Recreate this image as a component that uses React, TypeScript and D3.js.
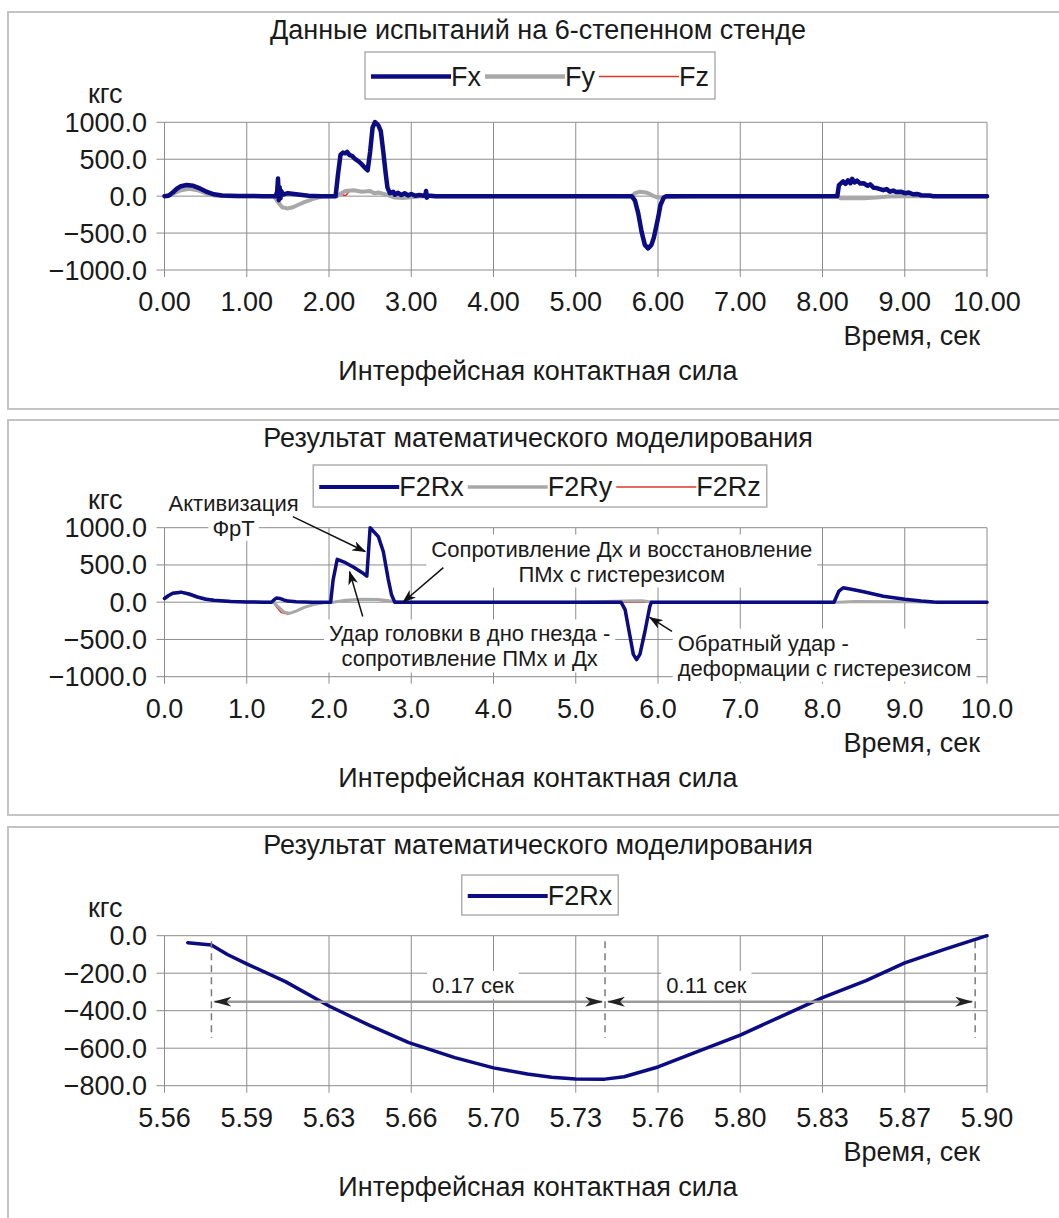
import React from 'react';
import * as d3 from 'd3';

type Pt = [number, number];

// стенд: измеренные силы, кгс
const fxData: Pt[] = [
  [0, 0], [0.05, 5], [0.1, 50], [0.15, 100], [0.2, 135], [0.27, 150], [0.35, 140], [0.43, 105], [0.5, 65],
  [0.6, 25], [0.7, 8], [0.9, 2], [1.2, 0], [1.35, 0], [1.37, 60], [1.38, 239], [1.39, -54], [1.4, 120],
  [1.41, -30], [1.42, 70], [1.44, 20], [1.5, 40], [1.6, 25], [1.75, 5], [1.9, 0], [2.08, 0], [2.11, 300],
  [2.14, 560], [2.17, 590], [2.2, 580], [2.22, 600], [2.25, 555], [2.28, 545], [2.32, 500], [2.36, 470],
  [2.4, 430], [2.44, 380], [2.47, 350], [2.5, 600], [2.53, 930], [2.56, 1004], [2.6, 960], [2.63, 880],
  [2.66, 600], [2.69, 300], [2.71, 120], [2.74, 40], [2.78, 60], [2.8, 20], [2.84, 45], [2.88, 15],
  [2.92, 40], [2.96, 10], [3.0, 30], [3.05, 5], [3.1, 15], [3.17, 0], [3.18, 70], [3.19, -20], [3.2, 10],
  [3.3, 0], [5.68, 0], [5.72, -60], [5.76, -234], [5.8, -480], [5.84, -660], [5.88, -707], [5.92, -660],
  [5.95, -560], [6.0, -300], [6.03, -120], [6.07, -20], [6.1, 0], [8.18, 0], [8.2, 150], [8.23, 180],
  [8.25, 200], [8.28, 165], [8.31, 215], [8.34, 175], [8.36, 235], [8.39, 185], [8.42, 210], [8.46, 170],
  [8.5, 175], [8.55, 140], [8.58, 160], [8.62, 115], [8.66, 110], [8.7, 95], [8.74, 80], [8.78, 95],
  [8.82, 60], [8.86, 75], [8.9, 55], [8.95, 60], [9.0, 40], [9.05, 50], [9.1, 25], [9.15, 30], [9.2, 12],
  [9.3, 8], [9.35, 0], [10, 0],
];
const fyData: Pt[] = [
  [0, 0], [0.1, 30], [0.2, 80], [0.3, 100], [0.4, 80], [0.5, 40], [0.6, 10], [0.8, 0], [1.33, 0],
  [1.38, -80], [1.43, -150], [1.49, -166], [1.55, -155], [1.62, -120], [1.7, -80], [1.8, -40], [1.93, 0],
  [2.1, 0], [2.15, 40], [2.2, 70], [2.3, 80], [2.4, 60], [2.5, 70], [2.55, 40], [2.6, 50], [2.7, 20],
  [2.8, -20], [2.9, -25], [3.0, -15], [3.1, -5], [3.2, 0], [5.68, 0], [5.72, 40], [5.78, 60], [5.85, 50],
  [5.9, 30], [5.95, 0], [6.0, -20], [6.1, -15], [6.3, -5], [6.5, 0], [8.18, 0], [8.22, -30], [8.5, -30],
  [8.65, -20], [8.8, -5], [9.0, 0], [10, 0],
];
const fzData: Pt[] = [
  [0, 0], [0.1, 28], [0.2, 78], [0.3, 98], [0.4, 78], [0.5, 38], [0.6, 10], [0.8, 0], [1.33, 0],
  [1.38, -78], [1.43, -148], [1.49, -164], [1.55, -153], [1.62, -118], [1.7, -78], [1.8, -38], [1.93, 0],
  [2.1, 0], [2.15, 30], [2.18, 10], [2.21, 15], [2.24, 60], [2.3, 78], [2.4, 58], [2.5, 68], [2.55, 40],
  [2.6, 48], [2.7, 20], [2.8, -18], [2.9, -23], [3.0, -14], [3.1, -5], [3.2, 0], [5.68, 0], [5.72, 38],
  [5.78, 58], [5.85, 48], [5.9, 28], [5.95, 0], [6.0, -18], [6.1, -14], [6.3, -5], [6.5, 0], [8.18, 0],
  [8.22, -28], [8.5, -28], [8.65, -18], [8.8, -5], [9.0, 0], [10, 0],
];

// модель: F2R, кгс
const f2rxData: Pt[] = [
  [0, 50], [0.05, 90], [0.1, 120], [0.2, 135], [0.3, 110], [0.4, 70], [0.5, 40], [0.6, 25], [0.8, 10],
  [1.0, 3], [1.2, 0], [1.3, 0], [1.33, 30], [1.36, 55], [1.4, 50], [1.45, 30], [1.5, 15], [1.6, 5],
  [1.8, 0], [2.02, 0], [2.05, 300], [2.1, 575], [2.2, 530], [2.3, 470], [2.4, 400], [2.46, 350],
  [2.5, 1000], [2.6, 880], [2.66, 680], [2.72, 310], [2.76, 100], [2.8, 0], [5.55, 0], [5.6, -100],
  [5.65, -400], [5.7, -700], [5.74, -770], [5.78, -700], [5.84, -400], [5.9, -60], [5.92, 0], [8.14, 0],
  [8.2, 150], [8.25, 193], [8.35, 175], [8.5, 140], [8.74, 80], [9.0, 40], [9.2, 15], [9.35, 2], [9.4, 0],
  [10, 0],
];
const f2ryData: Pt[] = [
  [0, 50], [0.1, 120], [0.2, 135], [0.4, 70], [0.6, 25], [1.0, 3], [1.33, 0], [1.38, -60], [1.45, -130],
  [1.52, -150], [1.6, -120], [1.7, -70], [1.8, -35], [1.95, -5], [2.05, 0], [2.2, 25], [2.4, 40],
  [2.6, 35], [2.8, 10], [3.0, 0], [5.0, 0], [5.6, 15], [5.8, 20], [5.95, 0], [8.2, 0], [8.4, 10],
  [9.0, 5], [9.4, 0], [10, 0],
];
const f2rzData: Pt[] = [
  [0, 50], [0.1, 120], [0.2, 135], [0.4, 70], [0.6, 25], [1.0, 3], [1.32, 0], [1.36, -60], [1.42, -140],
  [1.5, -160], [1.58, -130], [1.7, -70], [1.85, -20], [2.0, 0], [2.2, 20], [2.5, 35], [2.8, 5], [3.0, 0],
  [10, 0],
];

// модель: участок обратного удара
const f2rxZoom: Pt[] = [
  [5.5696, -37], [5.5794, -50], [5.586, -100], [5.594, -150], [5.61, -245], [5.628, -375], [5.645, -480],
  [5.661, -570], [5.68, -650], [5.696, -705], [5.71, -738], [5.72, -755], [5.73, -764], [5.742, -765],
  [5.75, -752], [5.764, -700], [5.78, -620], [5.798, -530], [5.815, -430], [5.832, -330], [5.85, -240],
  [5.866, -145], [5.883, -70], [5.9, 0],
];

const xTicksFull = [0, 1, 2, 3, 4, 5, 6, 7, 8, 9, 10];
const yTicksFull = [1000, 500, 0, -500, -1000];
const xTicksZoom = [5.56, 5.594, 5.628, 5.662, 5.696, 5.73, 5.764, 5.798, 5.832, 5.866, 5.9];
const yTicksZoom = [0, -200, -400, -600, -800];
const gapMarks = [5.5794, 5.7421, 5.8951];
const gapLabels = ['0.17 сек', '0.11 сек'];

const NAVY = '#0b0b82';
const GRAY = '#a8a8a8';
const RED = '#e0342c';
const INK = '#1a1a1a';
const GRID = '#8c8c8c';
const FONT = '"Liberation Sans", Arial, sans-serif';
const FS = 27;
const PLOT_L = 164.5;
const PLOT_R = 987;
const CX = 538;

let ctx: CanvasRenderingContext2D | null = null;
function textW(s: string, size: number) {
  if (!ctx) ctx = document.createElement('canvas').getContext('2d');
  if (!ctx) return s.length * size * 0.55;
  ctx.font = `${size}px "Liberation Sans"`;
  return ctx.measureText(s).width;
}

const yFmt = (v: number) => (v < 0 ? '\u2212' : '') + Math.abs(v).toFixed(1);

type Series = { data: Pt[]; color: string; width: number };
type LegendItem = { name: string; color: string; width: number };

function Legend({ items, top, h }: { items: LegendItem[]; top: number; h: number }) {
  const lineLen = 80;
  const pad = 6;
  const gap = 4;
  const widths = items.map((d) => textW(d.name, FS));
  const total = pad * 2 + d3.sum(widths) + items.length * lineLen + gap * (items.length - 1);
  let x = CX + 2 - total / 2 + pad;
  const cy = top + h / 2;
  return (
    <g>
      <rect x={CX + 2 - total / 2} y={top} width={total} height={h} fill="#fff" stroke="#b0b0b0" strokeWidth={1.5} />
      {items.map((d, i) => {
        const x0 = x;
        x += lineLen + widths[i] + gap;
        return (
          <g key={d.name}>
            <line x1={x0} x2={x0 + lineLen} y1={cy + 1} y2={cy + 1} stroke={d.color} strokeWidth={d.width} />
            <text x={x0 + lineLen} y={cy + 10} fontSize={FS} fill={INK}>{d.name}</text>
          </g>
        );
      })}
    </g>
  );
}

type Scales = { x: d3.ScaleLinear<number, number>; y: d3.ScaleLinear<number, number> };

function Panel(p: {
  top: number; h: number; title: string; legend: LegendItem[]; legendTop: number; legendH: number;
  plotTop: number; plotBottom: number; xDomain: [number, number]; yDomain: [number, number];
  xTicks: number[]; xFmt: (v: number) => string; yTicks: number[]; series: Series[];
  extra?: (s: Scales) => React.ReactNode;
}) {
  const x = d3.scaleLinear().domain(p.xDomain).range([PLOT_L, PLOT_R]);
  const y = d3.scaleLinear().domain(p.yDomain).range([p.plotBottom, p.plotTop]);
  const line = d3.line<Pt>().x((d) => x(d[0])).y((d) => y(d[1]));
  return (
    <g>
      <rect x={8} y={p.top} width={1060} height={p.h} fill="#fff" stroke="#c4c4c4" strokeWidth={2} />
      <text x={CX} y={p.top + 27} textAnchor="middle" fontSize={FS} fill={INK}>{p.title}</text>
      <Legend items={p.legend} top={p.legendTop} h={p.legendH} />
      <text x={88} y={p.plotTop - 19} fontSize={FS} fill={INK}>кгс</text>
      {p.yTicks.map((v) => (
        <g key={'y' + v}>
          <line x1={PLOT_L - 8} x2={PLOT_R} y1={y(v)} y2={y(v)} stroke={GRID} strokeWidth={1} />
          <text x={147} y={y(v) + 9.5} textAnchor="end" fontSize={FS} fill={INK}>{yFmt(v)}</text>
        </g>
      ))}
      {p.xTicks.map((v) => (
        <g key={'x' + v}>
          <line x1={x(v)} x2={x(v)} y1={p.plotTop} y2={p.plotBottom + 7} stroke={GRID} strokeWidth={1} />
          <text x={x(v)} y={p.plotBottom + 41} textAnchor="middle" fontSize={FS} fill={INK}>{p.xFmt(v)}</text>
        </g>
      ))}
      {p.series.map((s, i) => (
        <path key={i} d={line(s.data) || ''} fill="none" stroke={s.color} strokeWidth={s.width}
          strokeLinejoin="round" strokeLinecap="round" />
      ))}
      {p.extra ? p.extra({ x, y }) : null}
      <text x={980} y={p.plotBottom + 75} textAnchor="end" fontSize={FS} fill={INK}>Время, сек</text>
      <text x={CX} y={p.plotBottom + 110} textAnchor="middle" fontSize={FS} fill={INK}>Интерфейсная контактная сила</text>
    </g>
  );
}

function Note({ x, y, lines, anchor, block = true }: {
  x: number; y: number; lines: string[]; anchor: 'middle' | 'start'; block?: boolean;
}) {
  const size = 22;
  const lh = 25;
  const ws = lines.map((s) => textW(s, size));
  const left = (w: number) => (anchor === 'middle' ? x - w / 2 : x);
  const boxes = block
    ? [{ x: Math.min(...ws.map(left)) - 5, y: y - 14, w: Math.max(...ws) + 10, h: (lines.length - 1) * lh + 28 }]
    : ws.map((w, i) => ({ x: left(w) - 4, y: y + i * lh - 13, w: w + 8, h: 26 }));
  return (
    <g>
      {boxes.map((b, i) => <rect key={i} x={b.x} y={b.y} width={b.w} height={b.h} fill="#fff" />)}
      {lines.map((s, i) => (
        <text key={i} x={x} y={y + i * lh + 8} textAnchor={anchor} fontSize={size} fill={INK}>{s}</text>
      ))}
    </g>
  );
}

export default function App() {
  return (
    <svg width={1059} height={1218} style={{ position: 'absolute', left: 0, top: 0, fontFamily: FONT }}>
      <defs>
        <marker id="ahBlack" viewBox="0 0 14 10" refX={13} refY={5} markerWidth={14} markerHeight={10}
          markerUnits="userSpaceOnUse" orient="auto">
          <path d="M0,0 L14,5 L0,10 L4,5 Z" fill="#111" />
        </marker>
        <marker id="ahDim" viewBox="0 0 18 10" refX={17} refY={5} markerWidth={18} markerHeight={10}
          markerUnits="userSpaceOnUse" orient="auto-start-reverse">
          <path d="M0,0 L18,5 L0,10 L5,5 Z" fill="#222" />
        </marker>
      </defs>
      <rect x={0} y={0} width={1059} height={1218} fill="#fff" />

      <Panel
        top={12} h={397} title="Данные испытаний на 6-степенном стенде"
        legend={[
          { name: 'Fx', color: NAVY, width: 4.5 },
          { name: 'Fy', color: GRAY, width: 4.5 },
          { name: 'Fz', color: RED, width: 1.5 },
        ]}
        legendTop={52} legendH={47} plotTop={122.3} plotBottom={270}
        xDomain={[0, 10]} yDomain={[-1000, 1000]} xTicks={xTicksFull} xFmt={(v) => v.toFixed(2)}
        yTicks={yTicksFull}
        series={[
          { data: fzData, color: RED, width: 1.5 },
          { data: fyData, color: GRAY, width: 4 },
          { data: fxData, color: NAVY, width: 4.5 },
        ]}
      />

      <Panel
        top={420} h={395} title="Результат математического моделирования"
        legend={[
          { name: 'F2Rx', color: NAVY, width: 4 },
          { name: 'F2Ry', color: GRAY, width: 3.5 },
          { name: 'F2Rz', color: RED, width: 1.5 },
        ]}
        legendTop={465} legendH={42} plotTop={527.7} plotBottom={676.7}
        xDomain={[0, 10]} yDomain={[-1000, 1000]} xTicks={xTicksFull} xFmt={(v) => v.toFixed(1)}
        yTicks={yTicksFull}
        series={[
          { data: f2rzData, color: RED, width: 1.5 },
          { data: f2ryData, color: GRAY, width: 3 },
          { data: f2rxData, color: NAVY, width: 3.5 },
        ]}
        extra={({ x, y }) => (
          <g>
            <Note x={x(0.84)} y={y(1335)} lines={['Активизация', 'ФрТ']} anchor="middle" block={false} />
            <line x1={x(1.56)} y1={y(1149)} x2={x(2.44)} y2={y(680)} stroke="#111" strokeWidth={1.5} markerEnd="url(#ahBlack)" />
            <Note x={x(5.56)} y={y(720)} lines={['Сопротивление Дх и восстановление', 'ПМх с гистерезисом']} anchor="middle" />
            <line x1={x(3.39)} y1={y(465)} x2={x(2.9)} y2={y(0)} stroke="#111" strokeWidth={1.5} markerEnd="url(#ahBlack)" />
            <Note x={x(3.71)} y={y(-420)} lines={['Удар головки в дно гнезда -', 'сопротивление ПМх и Дх']} anchor="middle" />
            <line x1={x(2.41)} y1={y(-193)} x2={x(2.25)} y2={y(410)} stroke="#111" strokeWidth={1.5} markerEnd="url(#ahBlack)" />
            <Note x={x(6.24)} y={y(-542)} lines={['Обратный удар -', 'деформации с гистерезисом']} anchor="start" />
            <line x1={x(6.17)} y1={y(-393)} x2={x(5.9)} y2={y(-205)} stroke="#111" strokeWidth={1.5} markerEnd="url(#ahBlack)" />
          </g>
        )}
      />

      <Panel
        top={827} h={400} title="Результат математического моделирования"
        legend={[{ name: 'F2Rx', color: NAVY, width: 4 }]}
        legendTop={875} legendH={40} plotTop={935.7} plotBottom={1085.7}
        xDomain={[5.56, 5.9]} yDomain={[-800, 0]} xTicks={xTicksZoom} xFmt={(v) => v.toFixed(2)}
        yTicks={yTicksZoom}
        series={[{ data: f2rxZoom, color: NAVY, width: 3.5 }]}
        extra={({ x, y }) => (
          <g>
            {gapMarks.map((t) => (
              <line key={t} x1={x(t)} x2={x(t)} y1={y(-30)} y2={y(-545)} stroke="#7a7a7a" strokeWidth={1.5} strokeDasharray="7,5" />
            ))}
            <Note x={x(5.6875)} y={y(-263)} lines={[gapLabels[0]]} anchor="middle" />
            <Note x={x(5.784)} y={y(-263)} lines={[gapLabels[1]]} anchor="middle" />
            <line x1={x(gapMarks[0]) + 3} x2={x(gapMarks[1]) - 3} y1={y(-352)} y2={y(-352)} stroke="#9a9a9a" strokeWidth={2.5}
              markerStart="url(#ahDim)" markerEnd="url(#ahDim)" />
            <line x1={x(gapMarks[1]) + 3} x2={x(gapMarks[2]) - 3} y1={y(-352)} y2={y(-352)} stroke="#9a9a9a" strokeWidth={2.5}
              markerStart="url(#ahDim)" markerEnd="url(#ahDim)" />
          </g>
        )}
      />
    </svg>
  );
}
